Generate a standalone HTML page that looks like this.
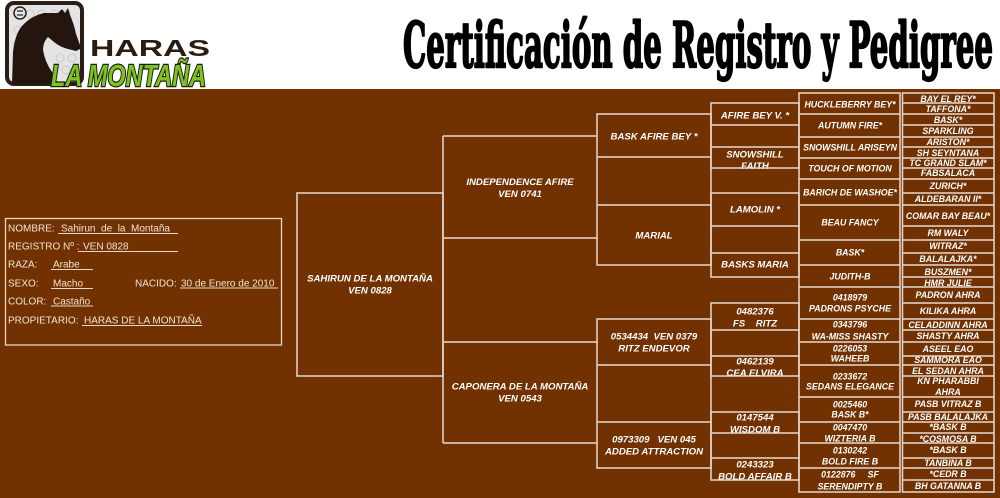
<!DOCTYPE html>
<html><head><meta charset="utf-8"><style>
html,body{margin:0;padding:0;background:#fff;}
svg{display:block;}
text{white-space:pre;}
.p{font-family:"Liberation Sans",sans-serif;font-weight:bold;font-style:italic;fill:#fff;text-anchor:middle;}
.a{font-size:9.6px;}
.b{font-size:8.8px;}
.i{font-family:"Liberation Sans",sans-serif;font-size:10px;fill:#f2e4d6;}
</style></head><body>
<svg width="1000" height="498" viewBox="0 0 1000 498" xmlns="http://www.w3.org/2000/svg">
<rect x="0" y="0" width="1000" height="89" fill="#fff"/>
<rect x="0" y="89" width="1000" height="409" fill="#723100"/>

<!-- Logo -->
<rect x="7" y="3" width="75" height="81" rx="7" fill="#e4e4e4" stroke="#2b1e16" stroke-width="4"/>
<g fill="none" stroke="#c8c8c8" stroke-width="1">
<circle cx="30" cy="14" r="4"/><circle cx="42" cy="14" r="4"/><circle cx="54" cy="14" r="4"/><circle cx="66" cy="14" r="4"/>
<circle cx="18" cy="30" r="4"/><circle cx="18" cy="44" r="4"/><circle cx="18" cy="58" r="4"/>
<circle cx="60" cy="58" r="4"/><circle cx="72" cy="58" r="4"/><circle cx="66" cy="70" r="4"/>
</g>
<circle cx="20" cy="13" r="6" fill="none" stroke="#2b1e16" stroke-width="1.5"/>
<line x1="17" y1="11" x2="23" y2="11" stroke="#2b1e16" stroke-width="1.2"/>
<line x1="17" y1="15" x2="23" y2="15" stroke="#2b1e16" stroke-width="1.2"/>
<path d="M12,84 L13,52 Q15,34 22,26 Q31,16 44,13 L58,13 L62,9 L65,13 L68,8 L70,15 Q74,24 76,34 L80,45 L80,49 L76,51 L68,49 Q60,47 54,42 L48,37 Q43,42 43,50 Q45,62 52,72 L58,84 Z" fill="#24160e"/>
<text x="90" y="56" font-family="Liberation Sans,sans-serif" font-weight="bold" font-size="23" fill="#2a1c12" textLength="120" lengthAdjust="spacingAndGlyphs">HARAS</text>
<text x="51" y="86" font-family="Liberation Sans,sans-serif" font-weight="bold" font-style="italic" font-size="31" fill="#7cc520" stroke="#1e1a10" stroke-width="2.5" paint-order="stroke" textLength="155" lengthAdjust="spacingAndGlyphs">LA MONTAÑA</text>

<!-- Title -->
<text x="403" y="67" font-family="DejaVu Serif Condensed,DejaVu Serif,serif" font-weight="bold" font-size="63" fill="#000" stroke="#000" stroke-width="2.2" stroke-linejoin="round" textLength="590" lengthAdjust="spacingAndGlyphs">Certificación de Registro y Pedigree</text>

<!-- Info box -->
<rect x="5.5" y="218.5" width="276" height="126.5" fill="none" stroke="#e8d6c6" stroke-width="1.3"/>
<g class="i">
<text x="8" y="231.5">NOMBRE:</text><text x="61" y="231.5">Sahirun  de  la  Montaña</text>
<text x="8" y="249.5">REGISTRO Nº :</text><text x="83" y="249.5">VEN 0828</text>
<text x="8" y="267.5">RAZA:</text><text x="53" y="267.5">Arabe</text>
<text x="8" y="286.5">SEXO:</text><text x="53" y="286.5">Macho</text>
<text x="135" y="286.5">NACIDO:</text><text x="181" y="286.5">30 de Enero de 2010</text>
<text x="8" y="304.5">COLOR:</text><text x="53" y="304.5">Castaño</text>
<text x="8" y="323.5">PROPIETARIO:</text><text x="84" y="323.5">HARAS DE LA MONTAÑA</text>
</g>
<g stroke="#e8d6c6" stroke-width="1">
<line x1="58" y1="233.5" x2="178" y2="233.5"/>
<line x1="78" y1="251.5" x2="178" y2="251.5"/>
<line x1="51" y1="269.5" x2="93" y2="269.5"/>
<line x1="51" y1="288.5" x2="93" y2="288.5"/>
<line x1="180" y1="288" x2="278" y2="288"/>
<line x1="51" y1="306" x2="93" y2="306"/>
<line x1="82" y1="325.5" x2="202" y2="325.5"/>
</g>

<!-- Pedigree text -->
<g class="p a">
<text x="370" y="281.5">SAHIRUN DE LA MONTAÑA</text><text x="370" y="293.5">VEN 0828</text>
<text x="520" y="185">INDEPENDENCE AFIRE</text><text x="520" y="197">VEN 0741</text>
<text x="520" y="389.5">CAPONERA DE LA MONTAÑA</text><text x="520" y="401.5">VEN 0543</text>
<text x="654" y="139.5">BASK AFIRE BEY *</text>
<text x="654" y="238.5">MARIAL</text>
<text x="654" y="339.5">0534434  VEN 0379</text><text x="654" y="351.5">RITZ ENDEVOR</text>
<text x="654" y="442.5">0973309   VEN 045</text><text x="654" y="454.5">ADDED ATTRACTION</text>
<text x="755" y="118.5">AFIRE BEY V. *</text>
<text x="755" y="157.5">SNOWSHILL</text><text x="755" y="169">FAITH</text>
<text x="755" y="212.5">LAMOLIN *</text>
<text x="755" y="267.5">BASKS MARIA</text>
<text x="755" y="314.5">0482376</text><text x="755" y="326.5">FS    RITZ</text>
<text x="755" y="364.5">0462139</text><text x="755" y="376">CEA ELVIRA</text>
<text x="755" y="420.5">0147544</text><text x="755" y="432.5">WISDOM B</text>
<text x="755" y="467.5">0243323</text><text x="755" y="479.5">BOLD AFFAIR B</text>
</g>
<g class="p b">
<text x="850" y="107.5">HUCKLEBERRY BEY*</text>
<text x="850" y="128.5">AUTUMN FIRE*</text>
<text x="850" y="150.5">SNOWSHILL ARISEYN</text>
<text x="850" y="171.5">TOUCH OF MOTION</text>
<text x="850" y="195.5">BARICH DE WASHOE*</text>
<text x="850" y="225.5">BEAU FANCY</text>
<text x="850" y="255.5">BASK*</text>
<text x="850" y="279.5">JUDITH-B</text>
<text x="850" y="300.5">0418979</text><text x="850" y="311.5">PADRONS PSYCHE</text>
<text x="850" y="327.5">0343796</text><text x="850" y="339.5">WA-MISS SHASTY</text>
<text x="850" y="351.5">0226053</text><text x="850" y="361.5">WAHEEB</text>
<text x="850" y="379.5">0233672</text><text x="850" y="389.5">SEDANS ELEGANCE</text>
<text x="850" y="407.5">0025460</text><text x="850" y="417.5">BASK B*</text>
<text x="850" y="430.5">0047470</text><text x="850" y="441.5">WIZTERIA B</text>
<text x="850" y="453.5">0130242</text><text x="850" y="464.5">BOLD FIRE B</text>
<text x="850" y="477.5">0122876     SF</text><text x="850" y="489.5">SERENDIPTY B</text>

<text x="948" y="102.2">BAY EL REY*</text>
<text x="948" y="112.2">TAFFONA*</text>
<text x="948" y="123.2">BASK*</text>
<text x="948" y="134.2">SPARKLING</text>
<text x="948" y="145.2">ARISTON*</text>
<text x="948" y="156.2">SH SEYNTANA</text>
<text x="948" y="166.2">TC GRAND SLAM*</text>
<text x="948" y="176.2">FABSALACA</text>
<text x="948" y="189.2">ZURICH*</text>
<text x="948" y="202.2">ALDEBARAN II*</text>
<text x="948" y="219.2">COMAR BAY BEAU*</text>
<text x="948" y="236.2">RM WALY</text>
<text x="948" y="249.2">WITRAZ*</text>
<text x="948" y="262.2">BALALAJKA*</text>
<text x="948" y="275.2">BUSZMEN*</text>
<text x="948" y="286.2">HMR JULIE</text>
<text x="948" y="298.2">PADRON AHRA</text>
<text x="948" y="314.2">KILIKA AHRA</text>
<text x="948" y="328.2">CELADDINN AHRA</text>
<text x="948" y="339.2">SHASTY AHRA</text>
<text x="948" y="352.2">ASEEL EAO</text>
<text x="948" y="363.2">SAMMORA EAO</text>
<text x="948" y="374.2">EL SEDAN AHRA</text>
<text x="948" y="384.2">KN PHARABBI</text><text x="948" y="395.2">AHRA</text>
<text x="948" y="407.2">PASB VITRAZ B</text>
<text x="948" y="420.2">PASB BALALAJKA</text>
<text x="948" y="430.2">*BASK B</text>
<text x="948" y="442.2">*COSMOSA B</text>
<text x="948" y="453.2">*BASK B</text>
<text x="948" y="466.2">TANBINA B</text>
<text x="948" y="477.2">*CEDR B</text>
<text x="948" y="489.2">BH GATANNA B</text>
</g>

<!-- Pedigree lines -->
<g fill="none" stroke="#e6d9d0" stroke-width="1.5">
<rect x="297" y="193" width="146" height="183"/>
<line x1="443" y1="136" x2="443" y2="443"/>
<line x1="443" y1="136" x2="597" y2="136"/>
<line x1="443" y1="238" x2="597" y2="238"/>
<line x1="443" y1="342" x2="597" y2="342"/>
<line x1="443" y1="443" x2="597" y2="443"/>

<rect x="597" y="114" width="114" height="151"/>
<line x1="597" y1="157" x2="711" y2="157"/>
<line x1="597" y1="205" x2="711" y2="205"/>
<rect x="597" y="319" width="114" height="149"/>
<line x1="597" y1="365" x2="711" y2="365"/>
<line x1="597" y1="422" x2="711" y2="422"/>

<rect x="711" y="103" width="88" height="65"/>
<line x1="711" y1="125" x2="799" y2="125"/>
<line x1="711" y1="147" x2="799" y2="147"/>
<rect x="711" y="193" width="88" height="84"/>
<line x1="711" y1="226" x2="799" y2="226"/>
<line x1="711" y1="253" x2="799" y2="253"/>
<rect x="711" y="303" width="88" height="73"/>
<line x1="711" y1="330" x2="799" y2="330"/>
<line x1="711" y1="356" x2="799" y2="356"/>
<rect x="711" y="412" width="88" height="68"/>
<line x1="711" y1="433" x2="799" y2="433"/>
<line x1="711" y1="458" x2="799" y2="458"/>

<rect x="799" y="93" width="101" height="399"/>
<path d="M799 114H900M799 137H900M799 158H900M799 179H900M799 205H900M799 240H900M799 265H900M799 287H900M799 319H900M799 342H900M799 365H900M799 397H900M799 422H900M799 443H900M799 468H900"/>

<rect x="902.5" y="93" width="91.5" height="399"/>
<path d="M902 103H994M902 114H994M902 125H994M902 137H994M902 147H994M902 158H994M902 168H994M902 179H994M902 193H994M902 205H994M902 226H994M902 240H994M902 253H994M902 265H994M902 277H994M902 287H994M902 303H994M902 319H994M902 330H994M902 342H994M902 356H994M902 365H994M902 376H994M902 397H994M902 412H994M902 422H994M902 433H994M902 443H994M902 458H994M902 468H994M902 480H994"/>
</g>
</svg>
</body></html>
